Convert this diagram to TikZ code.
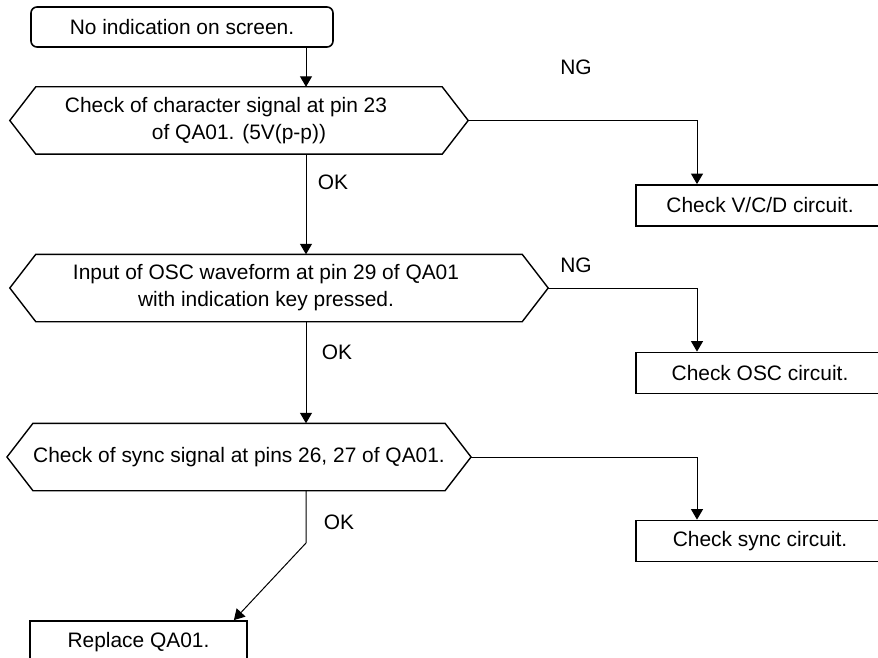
\documentclass[tikz,border=0pt]{standalone}
\usepackage{fontspec}
\setmainfont{Liberation Sans}
\usetikzlibrary{arrows.meta}
\begin{document}
\begin{tikzpicture}[x=1bp,y=-1bp,
  txt/.style={font=\fontsize{21}{27}\selectfont, align=center, inner sep=0pt},
  startbox/.style={txt, draw, line width=1.6bp, rounded corners=6bp,
    minimum width=302bp, minimum height=40bp},
  actbox/.style={txt, draw, line width=1.8bp, minimum height=41bp},
  hexbody/.style={txt, minimum height=67bp},
  hexline/.style={line width=1.4bp, line join=miter},
  arr/.style={line width=1bp, -{Triangle[length=10.5bp,width=12bp]}},
  lbl/.style={font=\fontsize{21}{25}\selectfont, inner sep=0pt},
]
\useasboundingbox (0,0) rectangle (878,658);
\clip (0,0) rectangle (878,658);

% main column and branch column
\coordinate (col) at (306,0);
\coordinate (ngcol) at (697,0);

% start
\node[startbox] (start) at (182,27) {No indication on screen.};

% decisions
\node[hexbody, minimum width=406bp] (q1) at (239,120.5)
  {Check of character signal at pin 23\hspace*{26bp}\\of QA01. (5V(p-p))};
\node[hexbody, minimum width=486bp] (q2) at (279,288)
  {Input of OSC waveform at pin 29 of QA01\hspace*{26bp}\\with indication key pressed.\hspace*{26bp}};
\node[hexbody, minimum width=406bp] (q3) at (239,457)
  {Check of sync signal at pins 26, 27 of QA01.};

\foreach \q in {q1,q2,q3}{
  \draw[hexline] ([xshift=-26bp]\q.west) -- (\q.north west) -- (\q.north east)
    -- ([xshift=26bp]\q.east) -- (\q.south east) -- (\q.south west) -- cycle;
  \coordinate (\q r) at ([xshift=26bp]\q.east);
}

% actions
\node[actbox, minimum width=248bp] (b1) at (760,205.5) {Check V/C/D circuit.};
\node[actbox, minimum width=248bp] (b2) at (760,373) {Check OSC circuit.};
\node[actbox, minimum width=248bp] (b3) at (760,541) {Check sync circuit.};
\node[actbox, minimum width=217bp, minimum height=43bp] (rep) at (138.5,642.5) {Replace QA01.};

% main flow
\draw[arr] (start.south -| col) -- (q1.north -| col);
\draw[arr] (q1.south -| col) -- (q2.north -| col);
\draw[arr] (q2.south -| col) -- (q3.north -| col);
\coordinate (bend) at (306,543);
\draw[arr] (q3.south -| col) -- (bend) -- ([xshift=-14bp]rep.north east);

\node[lbl] at (333,182) {OK};
\node[lbl] at (337,352) {OK};
\node[lbl] at (339,522) {OK};

% NG branches
\draw[arr] (q1r) -| (b1.north -| ngcol);
\draw[arr] (q2r) -| (b2.north -| ngcol);
\draw[arr] (q3r) -| (b3.north -| ngcol);

\node[lbl] at (576,67) {NG};
\node[lbl] at (576,265) {NG};
\end{tikzpicture}
\end{document}
